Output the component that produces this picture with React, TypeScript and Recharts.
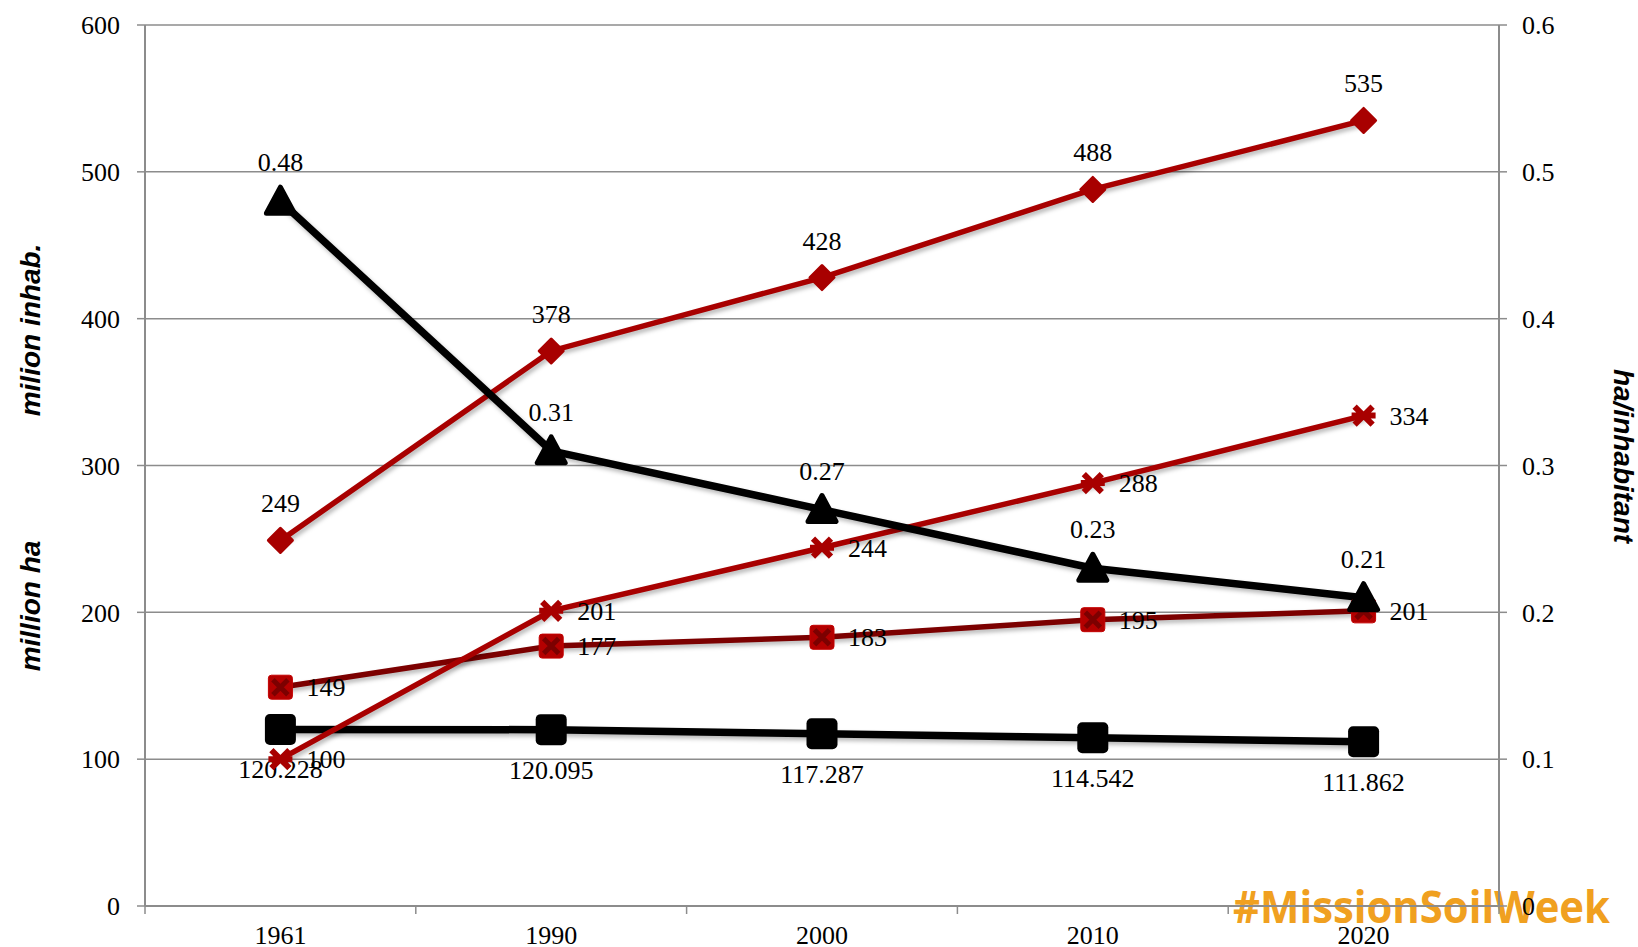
import React from 'react';
import { LineChart, Line, XAxis, YAxis, CartesianGrid } from 'recharts';

const years = ['1961', '1990', '2000', '2010', '2020'];
const inhabitants = [249, 378, 428, 488, 535];
const haPerInhabitant = [0.48, 0.31, 0.27, 0.23, 0.21];
const starSeries = [100, 201, 244, 288, 334];
const crossSeries = [149, 177, 183, 195, 201];
const arableHa = [120.228, 120.095, 117.287, 114.542, 111.862];
const leftTicks = [0, 100, 200, 300, 400, 500, 600];
const rightTicks = [0, 0.1, 0.2, 0.3, 0.4, 0.5, 0.6];

const data = years.map((year, i) => ({
  year,
  inhab: inhabitants[i],
  ratio: haPerInhabitant[i],
  star: starSeries[i],
  cross: crossSeries[i],
  arable: arableHa[i],
}));

const SERIF = '"Liberation Serif", "Times New Roman", serif';
const SANS = '"Liberation Sans", Arial, sans-serif';
const GRID = '#8c8c8c';
const RED = '#a80000';
const DARK_RED = '#7c0000';
const FONT_SIZE = 26;

// plot area: x 145..1499, five category slots
const PLOT_W = 1638 - 145 - 139;
const HALF_SLOT = PLOT_W / years.length / 2;

const labelStyle = { fontFamily: SERIF, fontSize: FONT_SIZE, fill: '#000' };

type Where = 'above' | 'right' | 'below';

const Label = ({ x, y, value, where, gap }: { x: number; y: number; value: number; where: Where; gap: number }) => {
  if (where === 'above') return <text x={x} y={y - gap} textAnchor="middle" style={labelStyle}>{value}</text>;
  if (where === 'below') return <text x={x} y={y + gap} textAnchor="middle" style={labelStyle}>{value}</text>;
  return <text x={x + gap} y={y + 9} textAnchor="start" style={labelStyle}>{value}</text>;
};

const makeDot = (shape: string, key: string, where: Where, gap: number) => (props: any) => {
  const { cx, cy, index, payload } = props;
  if (cx == null || cy == null) return <g key={index} />;
  let mark: React.ReactNode = null;
  if (shape === 'square') {
    mark = <rect x={cx - 15.5} y={cy - 15.5} width={31} height={31} rx={5} fill="#000" />;
  } else if (shape === 'triangle') {
    mark = (
      <path
        d={`M${cx},${cy - 14} L${cx + 14},${cy + 12} L${cx - 14},${cy + 12} Z`}
        fill="#000" stroke="#000" strokeWidth={5} strokeLinejoin="round"
      />
    );
  } else if (shape === 'diamond') {
    mark = (
      <path
        d={`M${cx},${cy - 12} L${cx + 12},${cy} L${cx},${cy + 12} L${cx - 12},${cy} Z`}
        fill={RED} stroke={RED} strokeWidth={3} strokeLinejoin="round"
      />
    );
  } else if (shape === 'cross') {
    mark = (
      <g>
        <rect x={cx - 12} y={cy - 12} width={24} height={24} rx={3} fill="#b40000" stroke="#c40000" strokeWidth={1} />
        <path d={`M${cx - 7.5},${cy - 7.5} L${cx + 7.5},${cy + 7.5} M${cx + 7.5},${cy - 7.5} L${cx - 7.5},${cy + 7.5}`} stroke={DARK_RED} strokeWidth={5} />
      </g>
    );
  } else if (shape === 'star') {
    mark = (
      <path
        d={`M${cx - 9},${cy - 9} L${cx + 9},${cy + 9} M${cx + 9},${cy - 9} L${cx - 9},${cy + 9} M${cx - 12},${cy} L${cx + 12},${cy}`}
        stroke={RED} strokeWidth={6}
      />
    );
  }
  return (
    <g key={index}>
      {mark}
      <Label x={cx} y={cy} value={payload[key]} where={where} gap={gap} />
    </g>
  );
};

// category labels plus tick marks on the slot boundaries
const YearTick = (props: any) => {
  const { x, y, payload, index } = props;
  return (
    <g>
      <line x1={x - HALF_SLOT} x2={x - HALF_SLOT} y1={y} y2={y + 8} stroke={GRID} strokeWidth={1.5} />
      {index === years.length - 1 && (
        <line x1={x + HALF_SLOT} x2={x + HALF_SLOT} y1={y} y2={y + 8} stroke={GRID} strokeWidth={1.5} />
      )}
      <text x={x} y={y + 38} textAnchor="middle" style={labelStyle}>{payload.value}</text>
    </g>
  );
};

export default function App() {
  return (
    <div style={{ position: 'absolute', left: 0, top: 0, width: 1638, height: 947, background: '#fff', overflow: 'hidden' }}>
      <style>{`.recharts-line-curve{filter:drop-shadow(2px 3px 2px rgba(0,0,0,0.28));}`}</style>
      <svg width={1638} height={947} style={{ position: 'absolute', left: 0, top: 0 }}>
        <text
          x={1233} y={923} textLength={377} lengthAdjust="spacingAndGlyphs"
          style={{ fontFamily: '"Open Sans", sans-serif', fontWeight: 700, fontSize: 44, fill: '#f0a020' }}
        >
          #MissionSoilWeek
        </text>
      </svg>
      <div style={{ position: 'absolute', left: 0, top: 0 }}>
        <LineChart width={1638} height={947} data={data} margin={{ top: 25, right: 0, bottom: 0, left: 0 }}>
          <CartesianGrid vertical={false} stroke={GRID} strokeWidth={1.5} yAxisId="l" xAxisId="cat" />
          <XAxis
            xAxisId="cat" dataKey="year" tickLine={false} tickSize={0} tickMargin={0} height={41}
            padding={{ left: HALF_SLOT, right: HALF_SLOT }} interval={0}
            axisLine={{ stroke: GRID, strokeWidth: 2 }}
            tick={<YearTick />}
          />
          <YAxis
            yAxisId="l" domain={[0, 600]} ticks={leftTicks} width={145} tickSize={8} tickMargin={17}
            axisLine={{ stroke: GRID, strokeWidth: 2 }} tickLine={{ stroke: GRID, strokeWidth: 1.5 }}
            tick={{ fontFamily: SERIF, fontSize: FONT_SIZE, fill: '#000' }}
          />
          <YAxis
            yAxisId="r" orientation="right" domain={[0, 0.6]} ticks={rightTicks} width={139} tickSize={8} tickMargin={15}
            axisLine={{ stroke: GRID, strokeWidth: 2 }} tickLine={{ stroke: GRID, strokeWidth: 1.5 }}
            tick={{ fontFamily: SERIF, fontSize: FONT_SIZE, fill: '#000' }}
          />
          <Line xAxisId="cat" yAxisId="l" dataKey="arable" stroke="#000" strokeWidth={7.5}
            dot={makeDot('square', 'arable', 'below', 49)} activeDot={false} isAnimationActive={false} />
          <Line xAxisId="cat" yAxisId="l" dataKey="cross" stroke={DARK_RED} strokeWidth={5.5}
            dot={makeDot('cross', 'cross', 'right', 26)} activeDot={false} isAnimationActive={false} />
          <Line xAxisId="cat" yAxisId="l" dataKey="star" stroke={RED} strokeWidth={5.5}
            dot={makeDot('star', 'star', 'right', 26)} activeDot={false} isAnimationActive={false} />
          <Line xAxisId="cat" yAxisId="l" dataKey="inhab" stroke={RED} strokeWidth={5.5}
            dot={makeDot('diamond', 'inhab', 'above', 28)} activeDot={false} isAnimationActive={false} />
          <Line xAxisId="cat" yAxisId="r" dataKey="ratio" stroke="#000" strokeWidth={7.5}
            dot={makeDot('triangle', 'ratio', 'above', 30)} activeDot={false} isAnimationActive={false} />
        </LineChart>
      </div>
      <svg width={1638} height={947} style={{ position: 'absolute', left: 0, top: 0, pointerEvents: 'none' }}>
        <text transform="translate(40, 330) rotate(-90)" textAnchor="middle"
          style={{ fontFamily: SANS, fontWeight: 700, fontStyle: 'italic', fontSize: 28, fill: '#000' }}>
          milion inhab.
        </text>
        <text transform="translate(40, 606) rotate(-90)" textAnchor="middle"
          style={{ fontFamily: SANS, fontWeight: 700, fontStyle: 'italic', fontSize: 28, fill: '#000' }}>
          million ha
        </text>
        <text transform="translate(1614, 456) rotate(90)" textAnchor="middle"
          style={{ fontFamily: SANS, fontWeight: 700, fontStyle: 'italic', fontSize: 28, fill: '#000' }}>
          ha/inhabitant
        </text>
      </svg>
    </div>
  );
}
